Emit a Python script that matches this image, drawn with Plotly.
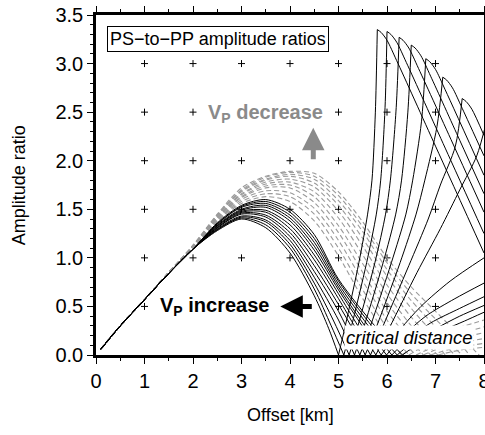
import plotly.graph_objects as go

# ---------------- data ----------------
# shared start of all pre-critical curves
base_x = [0.1, 0.5, 1.0, 1.5, 2.0]
base_y = [0.06, 0.30, 0.57, 0.84, 1.09]

# black (Vp increase) pre-critical arcs: values at mid_x, then tail points
mid_x = [2.5, 3.0, 3.5, 4.0, 4.5]
black_mid_y = [
    [1.28, 1.40, 1.31, 1.05, 0.61],
    [1.29, 1.41, 1.34, 1.10, 0.68],
    [1.29, 1.42, 1.37, 1.14, 0.74],
    [1.30, 1.43, 1.39, 1.18, 0.80],
    [1.31, 1.45, 1.42, 1.22, 0.86],
    [1.31, 1.46, 1.44, 1.26, 0.92],
    [1.32, 1.47, 1.47, 1.30, 0.98],
    [1.33, 1.48, 1.49, 1.34, 1.03],
    [1.33, 1.49, 1.52, 1.38, 1.08],
    [1.34, 1.50, 1.54, 1.41, 1.12],
    [1.35, 1.52, 1.56, 1.44, 1.16],
    [1.35, 1.53, 1.58, 1.47, 1.20],
    [1.36, 1.54, 1.60, 1.50, 1.24],
]
black_tail_x = [
    [4.8, 5.00], [4.85, 5.11], [4.9, 5.22], [5.0, 5.33], [5.0, 5.44],
    [5.0, 5.3, 5.55], [5.0, 5.35, 5.66], [5.0, 5.4, 5.77], [5.0, 5.5, 5.88],
    [5.0, 5.5, 5.99], [5.0, 5.6, 6.10], [5.0, 5.7, 6.21], [5.0, 5.8, 6.32],
]
black_tail_y = [
    [0.27, 0.0], [0.30, 0.0], [0.35, 0.0], [0.36, 0.0], [0.45, 0.0],
    [0.52, 0.26, 0.0], [0.58, 0.28, 0.0], [0.63, 0.30, 0.0], [0.67, 0.29, 0.0],
    [0.70, 0.33, 0.0], [0.73, 0.31, 0.0], [0.76, 0.29, 0.0], [0.78, 0.27, 0.0],
]

# black post-critical rising branches
black_rise_x = [
    [5.00, 5.14, 5.42, 5.60, 5.69, 5.76, 5.80],
    [5.11, 5.27, 5.58, 5.78, 5.87, 5.96, 6.00],
    [5.22, 5.40, 5.75, 5.97, 6.07, 6.19, 6.25],
    [5.33, 5.53, 5.92, 6.18, 6.30, 6.43, 6.50],
    [5.44, 5.66, 6.09, 6.39, 6.53, 6.71, 6.80],
    [5.55, 5.79, 6.27, 6.60, 6.78, 7.03, 7.15],
    [5.66, 5.92, 6.45, 6.85, 7.10, 7.41, 7.55],
    [5.77, 6.05, 6.62, 7.10, 7.50, 7.85, 8.05],
    [5.88, 6.20, 6.70, 7.30, 8.00],
    [5.99, 6.30, 6.80, 7.40, 8.00],
    [6.10, 6.40, 6.90, 7.50, 8.00],
    [6.21, 6.50, 7.00, 7.50, 8.00],
    [6.32, 6.60, 7.10, 7.60, 8.00],
]
black_rise_y = [
    [0.0, 0.30, 0.95, 1.45, 1.80, 2.50, 3.35],
    [0.0, 0.30, 0.95, 1.45, 1.80, 2.55, 3.33],
    [0.0, 0.30, 0.95, 1.45, 1.80, 2.55, 3.27],
    [0.0, 0.30, 0.95, 1.45, 1.80, 2.50, 3.19],
    [0.0, 0.30, 0.95, 1.45, 1.80, 2.40, 3.05],
    [0.0, 0.30, 0.95, 1.45, 1.80, 2.35, 2.86],
    [0.0, 0.30, 0.92, 1.40, 1.75, 2.15, 2.64],
    [0.0, 0.28, 0.85, 1.30, 1.70, 2.05, 2.40],
    [0.0, 0.22, 0.50, 0.76, 1.00],
    [0.0, 0.18, 0.40, 0.58, 0.74],
    [0.0, 0.15, 0.33, 0.48, 0.60],
    [0.0, 0.12, 0.27, 0.40, 0.51],
    [0.0, 0.10, 0.24, 0.35, 0.44],
]

# black post-peak falling branches
black_fall_x = [
    [5.80, 5.88, 6.00, 6.20, 7.00, 8.00],
    [6.00, 6.08, 6.20, 6.40, 7.20, 8.00],
    [6.25, 6.33, 6.45, 6.65, 7.40, 8.00],
    [6.50, 6.58, 6.70, 6.90, 7.50, 8.00],
    [6.80, 6.88, 7.00, 7.20, 8.00],
    [7.15, 7.23, 7.35, 7.55, 8.00],
    [7.55, 7.63, 7.75, 8.00],
]
black_fall_y = [
    [3.35, 3.32, 3.24, 3.03, 2.15, 1.05],
    [3.33, 3.30, 3.22, 3.01, 2.13, 1.25],
    [3.27, 3.24, 3.16, 2.95, 2.13, 1.47],
    [3.19, 3.16, 3.08, 2.87, 2.21, 1.66],
    [3.05, 3.02, 2.94, 2.73, 1.85],
    [2.86, 2.83, 2.75, 2.54, 2.05],
    [2.64, 2.61, 2.53, 2.26],
]

# grey dashed (Vp decrease) curves
gray_base_x = [0.1, 0.5, 1.0, 1.5]
gray_base_y = [0.06, 0.30, 0.57, 0.85]
gray_x = [
    [2.0, 2.5, 3.0, 3.5, 4.0, 4.5, 5.0, 5.5, 6.0, 6.30],
    [2.0, 2.5, 3.0, 3.5, 4.0, 4.5, 5.0, 5.5, 6.0, 6.45],
    [2.0, 2.5, 3.0, 3.5, 4.0, 4.5, 5.0, 5.5, 6.0, 6.3, 6.60],
    [2.0, 2.5, 3.0, 3.5, 4.0, 4.5, 5.0, 5.5, 6.0, 6.5, 6.75],
    [2.0, 2.5, 3.0, 3.5, 4.0, 4.5, 5.0, 5.5, 6.0, 6.5, 6.90],
    [2.0, 2.5, 3.0, 3.5, 4.0, 4.5, 5.0, 5.5, 6.0, 6.5, 6.8, 7.05],
    [2.0, 2.5, 3.0, 3.5, 4.0, 4.5, 5.0, 5.5, 6.0, 6.5, 7.0, 7.20],
    [2.0, 2.5, 3.0, 3.5, 4.0, 4.5, 5.0, 5.5, 6.0, 6.5, 7.0, 7.40],
    [2.0, 2.5, 3.0, 3.5, 4.0, 4.5, 5.0, 5.5, 6.0, 6.5, 7.0, 7.3, 7.55],
    [2.0, 2.5, 3.0, 3.5, 4.0, 4.5, 5.0, 5.5, 6.0, 6.5, 7.0, 7.5, 7.70],
    [2.0, 2.5, 3.0, 3.5, 4.0, 4.5, 5.0, 5.5, 6.0, 6.5, 7.0, 7.5, 7.90],
]
gray_y = [
    [1.10, 1.37, 1.56, 1.63, 1.58, 1.38, 1.02, 0.58, 0.20, 0.0],
    [1.10, 1.38, 1.58, 1.66, 1.63, 1.45, 1.10, 0.67, 0.28, 0.0],
    [1.11, 1.39, 1.60, 1.69, 1.67, 1.51, 1.18, 0.76, 0.36, 0.15, 0.0],
    [1.11, 1.40, 1.62, 1.72, 1.72, 1.57, 1.26, 0.85, 0.45, 0.14, 0.0],
    [1.11, 1.41, 1.63, 1.74, 1.75, 1.63, 1.33, 0.94, 0.54, 0.22, 0.0],
    [1.12, 1.41, 1.65, 1.76, 1.78, 1.68, 1.41, 1.03, 0.63, 0.30, 0.12, 0.0],
    [1.12, 1.42, 1.66, 1.78, 1.81, 1.73, 1.48, 1.12, 0.72, 0.39, 0.12, 0.0],
    [1.12, 1.43, 1.68, 1.80, 1.84, 1.77, 1.54, 1.20, 0.81, 0.48, 0.20, 0.0],
    [1.12, 1.44, 1.69, 1.81, 1.86, 1.81, 1.59, 1.27, 0.88, 0.56, 0.29, 0.12, 0.0],
    [1.13, 1.44, 1.70, 1.83, 1.88, 1.84, 1.64, 1.32, 0.95, 0.63, 0.37, 0.12, 0.0],
    [1.13, 1.45, 1.72, 1.84, 1.89, 1.87, 1.68, 1.37, 1.00, 0.70, 0.45, 0.20, 0.0],
]
gray_rise_x = [
    [6.30, 6.70, 7.30, 8.00],
    [6.45, 6.80, 7.40, 8.00],
    [6.60, 7.00, 7.50, 8.00],
    [6.75, 7.10, 7.60, 8.00],
    [6.90, 7.30, 8.00],
    [7.05, 7.50, 8.00],
]
gray_rise_y = [
    [0.0, 0.12, 0.25, 0.36],
    [0.0, 0.10, 0.20, 0.29],
    [0.0, 0.09, 0.17, 0.23],
    [0.0, 0.07, 0.13, 0.17],
    [0.0, 0.06, 0.12],
    [0.0, 0.05, 0.08],
]

grid_x = [1, 2, 3, 4, 5, 6, 7]
grid_y = [0.5, 1.0, 1.5, 2.0, 2.5, 3.0]

x_ticks = [0, 1, 2, 3, 4, 5, 6, 7, 8]
y_ticks = [0.0, 0.5, 1.0, 1.5, 2.0, 2.5, 3.0, 3.5]

# ---------------- figure ----------------
FONT = "Liberation Sans, Arial, Helvetica, sans-serif"
GRAY_LINE = "#9a9a9a"
fig = go.Figure()

# grid crosses
gx, gy = [], []
for yy in grid_y:
    for xx in grid_x:
        gx.append(xx)
        gy.append(yy)
fig.add_trace(go.Scatter(x=gx, y=gy, mode="markers",
                         marker=dict(symbol="cross-thin", size=5,
                                     line=dict(color="black", width=1)),
                         hoverinfo="skip"))

dash_line = dict(color=GRAY_LINE, width=1.1, dash="5px,3px")
for xs, ys in zip(gray_x, gray_y):
    fig.add_trace(go.Scatter(x=gray_base_x + xs, y=gray_base_y + ys, mode="lines",
                             line=dict(shape="spline", smoothing=0.8, **dash_line)))
for xs, ys in zip(gray_rise_x, gray_rise_y):
    fig.add_trace(go.Scatter(x=xs, y=ys, mode="lines",
                             line=dict(shape="spline", smoothing=0.8, **dash_line)))

solid = dict(color="black", width=1)
for my, tx, ty in zip(black_mid_y, black_tail_x, black_tail_y):
    fig.add_trace(go.Scatter(x=base_x + mid_x + tx, y=base_y + my + ty, mode="lines",
                             line=dict(shape="spline", smoothing=0.8, **solid)))
for xs, ys in zip(black_rise_x, black_rise_y):
    fig.add_trace(go.Scatter(x=xs, y=ys, mode="lines",
                             line=dict(shape="spline", smoothing=0.8, **solid)))
for xs, ys in zip(black_fall_x, black_fall_y):
    fig.add_trace(go.Scatter(x=xs, y=ys, mode="lines",
                             line=dict(shape="spline", smoothing=0.8, **solid)))

axis_common = dict(showline=True, linecolor="black", linewidth=2.5, mirror="ticks",
                   ticks="outside", ticklen=6, tickwidth=1, tickcolor="black",
                   showgrid=False, zeroline=False, automargin=False,
                   ticklabeloverflow="allow",
                   tickfont=dict(family=FONT, size=20, color="black"))
fig.update_xaxes(range=[0, 8], tickvals=x_ticks,
                 minor=dict(dtick=0.5, ticklen=3, tickwidth=1, tickcolor="black", ticks="outside"),
                 **axis_common)
fig.update_yaxes(range=[0, 3.5], tickvals=y_ticks, tickformat=".1f",
                 minor=dict(dtick=0.1, ticklen=3, tickwidth=1, tickcolor="black", ticks="outside"),
                 **axis_common)

ann = [
    dict(text="PS\u2212to\u2212PP amplitude ratios", x=2.52, y=3.25, xref="x", yref="y",
         showarrow=False, bgcolor="white", bordercolor="black", borderwidth=1, borderpad=2,
         font=dict(family=FONT, size=18, color="black")),
    dict(text="<b>V<sub>P</sub> decrease</b>", x=3.49, y=2.49, xref="x", yref="y",
         showarrow=False, bgcolor="white", borderpad=0,
         font=dict(family=FONT, size=20, color="#8a8a8a")),
    dict(text="<b>V<sub>P</sub> increase</b>", x=2.45, y=0.50, xref="x", yref="y",
         showarrow=False, bgcolor="white", borderpad=0,
         font=dict(family=FONT, size=20, color="black")),
    dict(text="<i>critical distance</i>", x=6.46, y=0.185, xref="x", yref="y",
         showarrow=False, bgcolor="white", borderpad=1,
         font=dict(family=FONT, size=18.5, color="black")),
    dict(text="", x=4.48, y=2.34, ax=4.48, ay=2.0, xref="x", yref="y", axref="x", ayref="y",
         showarrow=True, arrowhead=2, arrowsize=0.9, arrowwidth=5, arrowcolor="#8a8a8a",
         standoff=0),
    dict(text="", x=3.80, y=0.50, ax=4.48, ay=0.50, xref="x", yref="y", axref="x", ayref="y",
         showarrow=True, arrowhead=2, arrowsize=0.9, arrowwidth=5, arrowcolor="black",
         standoff=0),
    dict(text="Offset [km]", x=0.5, y=-0.176, xref="paper", yref="paper",
         showarrow=False, yanchor="middle", font=dict(family=FONT, size=18, color="black")),
    dict(text="Amplitude ratio", x=-0.198, y=0.5, xref="paper", yref="paper", textangle=-90,
         showarrow=False, xanchor="center", font=dict(family=FONT, size=18, color="black")),
]

fig.update_layout(width=485, height=435, showlegend=False,
                  margin=dict(l=96, r=1, t=15, b=80, autoexpand=False),
                  plot_bgcolor="white", paper_bgcolor="white",
                  annotations=ann, font=dict(family=FONT))

fig.write_html("out.html")
